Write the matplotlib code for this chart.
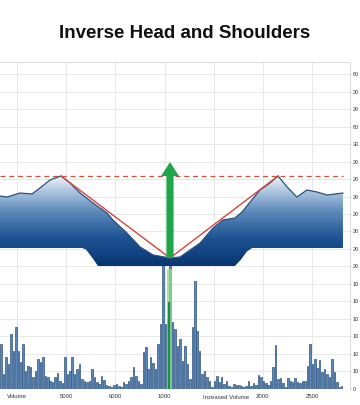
import numpy as np
import matplotlib
matplotlib.use("Agg")
import matplotlib.pyplot as plt
from matplotlib.colors import LinearSegmentedColormap
from matplotlib.patches import Polygon

# volume bars (one per day)
volume = [45, 15, 32, 25, 55, 38, 62, 38, 27, 45, 18, 23, 22, 12, 18, 30, 27, 32, 13, 12,
          8, 7, 12, 16, 8, 6, 32, 15, 18, 32, 15, 20, 25, 10, 8, 7, 8, 20, 12, 7,
          5, 13, 9, 4, 3, 2, 4, 5,
          3, 2, 7, 5, 8, 12, 22, 13, 8, 5, 37, 42, 20, 32, 26, 20, 45, 65, 123, 65,
          70, 123, 67, 60, 43, 50, 28, 43, 25, 10, 62, 108, 58, 38, 15, 18, 12, 8, 2, 8,
          13, 7, 12, 5, 8, 3, 2, 5, 4,
          4, 3, 2, 3, 8, 3, 6, 4, 14, 12, 8, 6, 4, 8, 22, 44, 10, 11, 6, 2,
          11, 8, 7, 11, 7, 6, 8, 8, 23, 45, 25, 30, 21, 29, 17, 20, 15, 12, 30, 17,
          7, 2, 3]

# price curve
price_x = [-0.5, 2.4, 7.7, 12.6, 15.8, 19.9, 24.4, 28.1, 32.2, 37.5, 43.2, 45.6, 51.3,
           56.7, 62.0, 68.9, 73.0, 81.2, 86.5, 90.5, 95.4, 98.3, 105.6, 109.7, 113.0,
           116.7, 120.7, 124.8, 128.9, 133.0, 139.5]
price_y = [192.5, 191.5, 195.5, 194.5, 200.5, 208.5, 212.5, 205.5, 195.5, 185.5, 175.5,
           168.5, 155.5, 141.5, 133.5, 130.5, 131.5, 145.5, 160.5, 168.5, 170.5, 176.5,
           198.5, 205.5, 212.5, 201.5, 191.5, 198.5, 196.5, 193.5, 195.5]

# lower edge of the shaded area
base_x = [-0.5, 33.0, 34.6, 37.1, 39.5, 95.4, 97.9, 100.3, 102.4, 139.5]
base_y = [140.5, 140.5, 139.0, 131.0, 122.5, 122.5, 129.0, 137.0, 140.5, 140.5]

# pattern points
left_shoulder = (24.4, 212.5)
head = (68.9, 130.5)
right_shoulder = (113.0, 212.5)
neckline = 212.5
target = 226.5

x_labels = ["Volume", "5000", "6000", "1000", "", "2000", "2500"]
y_labels = ["0", "10", "10", "10", "10", "10", "10", "20", "20", "20",
            "20", "20", "20", "20", "30", "60", "20", "20", "60"]

fig = plt.figure(figsize=(3.6, 4.05), dpi=100)
ax = fig.add_axes([0.0, 0.0407, 0.9722, 0.8062])
ax.set_xlim(-0.49, 142.37)
ax.set_ylim(0, 326.5)

# grid
ax.set_axisbelow(True)
xt = 6.45 + 20.07 * np.arange(len(x_labels))
ax.set_xticks(xt)
ax.set_xticklabels(x_labels, fontsize=4.3, color="#333333", family="Liberation Sans")
yt = 17.45 * np.arange(len(y_labels))
ax.yaxis.tick_right()
ax.set_yticks(yt)
ax.set_yticklabels(y_labels, fontsize=4.0, color="#333333", family="Liberation Sans")
ax.tick_params(axis="x", length=0, pad=4)
ax.tick_params(axis="y", length=1, color="#cccccc", pad=0.8)
ax.grid(True, color="#e8e8e8", lw=0.7)
for s in ["left", "bottom"]:
    ax.spines[s].set_visible(False)
for s in ["top", "right"]:
    ax.spines[s].set_color("#dddddd")
    ax.spines[s].set_linewidth(0.8)

ax.text(91.8, -0.027, "Inzeased Volume", transform=ax.get_xaxis_transform(),
        ha="center", va="center", fontsize=4.3, color="#333333", family="Liberation Sans")

# volume
days = np.arange(len(volume))
ax.bar(days, volume, width=0.62, color="#5b87b8", edgecolor="#2d5586", lw=0.5, zorder=2)
ax.bar(head[0] - 0.3, 120, width=2.0, color="#8fdc8f", alpha=0.8, lw=0, zorder=3)
ax.plot([head[0] - 0.3, head[0] - 0.3], [0, 86], color="#1e8f3e", lw=1.6, zorder=3)

# gradient fill
verts = list(zip(price_x, price_y)) + list(zip(base_x[::-1], base_y[::-1]))
poly = Polygon(verts, closed=True, facecolor="none", edgecolor="none")
ax.add_patch(poly)
cmap = LinearSegmentedColormap.from_list(
    "fade", [(0, "#073671"), (0.3, "#1d5191"), (0.6, "#5d8abb"), (0.85, "#b7cde4"), (1, "#f2f6fb")])
grad = np.linspace(0, 1, 256).reshape(-1, 1)
img = ax.imshow(grad, cmap=cmap, aspect="auto", origin="lower",
                extent=[-0.5, 139.5, 122.5, 213], zorder=4)
img.set_clip_path(poly)
ax.plot(price_x, price_y, color="#2c4f7c", lw=0.9, zorder=5)

# neckline and pattern lines
ax.plot([-0.5, 139.5], [neckline, neckline], color="#c8553d", lw=0.9, dashes=(4, 3), zorder=6)
ax.plot([left_shoulder[0], head[0], right_shoulder[0]],
        [left_shoulder[1], head[1], right_shoulder[1]], color="#d2453f", lw=1.0, zorder=6)

# breakout arrow
ax.arrow(head[0], head[1], 0, target - head[1], width=2.9, head_width=7.3, head_length=14,
         length_includes_head=True, color="#1fa64a", lw=0, zorder=7)

fig.text(0.513, 0.918, "Inverse Head and Shoulders", ha="center", va="center",
         fontsize=13.5, fontweight="bold", family="Liberation Sans", color="#111111")

fig.savefig("out.png", dpi=100)
